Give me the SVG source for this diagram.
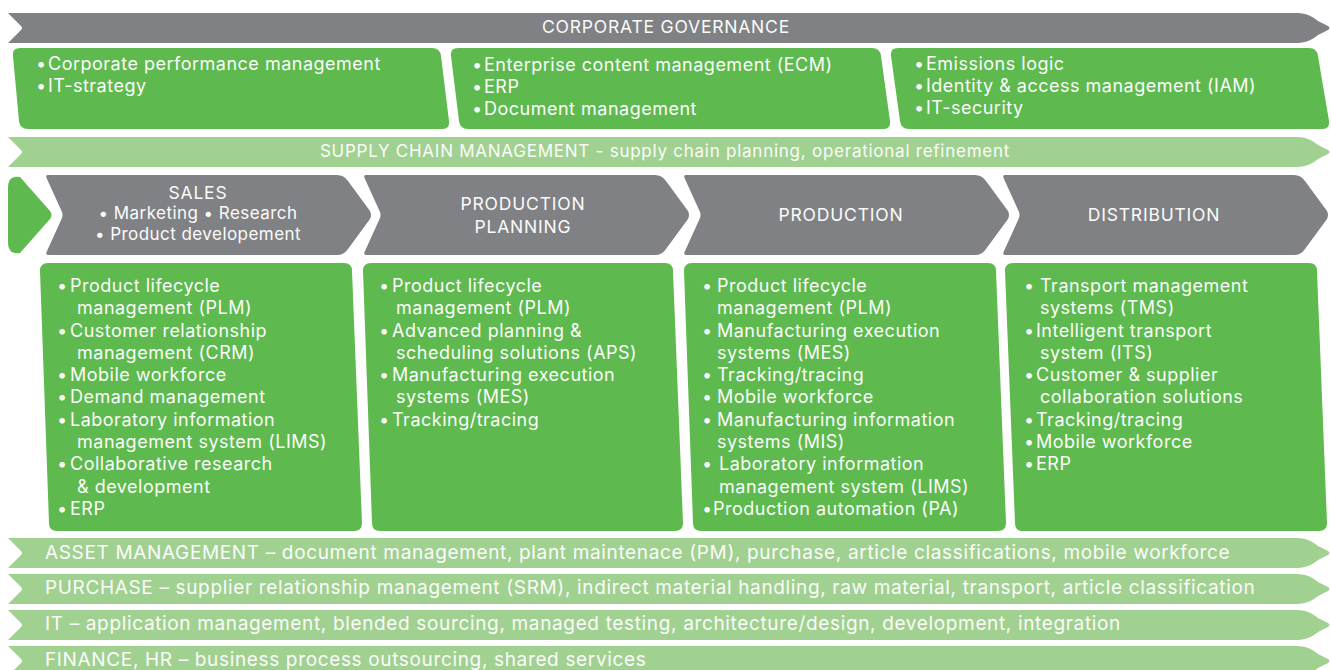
<svg xmlns="http://www.w3.org/2000/svg" width="1331" height="670" viewBox="0 0 1331 670">
<style>
.gray{fill:#808184}
.green{fill:#5eba4e}
.light{fill:#a1d190}
text{font-family:Inter,"Liberation Sans",sans-serif;fill:#fbfbfb}
.h{font-size:17.5px;letter-spacing:0.8px}
.s{font-size:17px;letter-spacing:0.45px}
.scm{font-size:17px;letter-spacing:0.75px}
.t{font-size:18px;letter-spacing:0.5px}
.b{font-size:19px;letter-spacing:0.65px}
.c{text-anchor:middle}
</style>
<defs>
<path id="chev" d="M 3 0 L 292 0 Q 299 0 303 6 L 325 36 Q 327 40 325 44 L 303 74 Q 299 80 292 80 L 3 80 Q 0 80 2 76 L 17 43 Q 18 40 17 37 L 2 4 Q 0 0 3 0 Z"/>
<path id="bar" d="M 8 0 L 1297 0 C 1307 0 1313 4 1318 8 L 1328 13 Q 1331 15 1328 17 L 1318 22 C 1313 26 1307 30 1297 30 L 8 30 L 21 17 Q 23 15 21 13 Z"/>
</defs>

<g id="corporate-governance">
<use href="#bar" y="13" class="gray"/>
<text class="h c" x="666" y="33">CORPORATE GOVERNANCE</text>
</g>

<g id="box-corporate">
<path class="green" d="M 20 48 L 432 48 Q 440 48 441 56 L 449 121 Q 450 129 442 129 L 28 129 Q 20 129 19 121 L 13 56 Q 12 48 20 48 Z"/>
<text class="t" x="36" y="70">•</text><text class="t" x="48" y="70">Corporate performance management</text>
<text class="t" x="36" y="92">•</text><text class="t" x="48" y="92">IT-strategy</text>
</g>

<g id="box-content">
<path class="green" d="M 458 48 L 872 48 Q 880 48 881 56 L 890 121 Q 891 129 883 129 L 468 129 Q 460 129 459 121 L 451 56 Q 450 48 458 48 Z"/>
<text class="t" x="472" y="71">•</text><text class="t" x="484" y="71">Enterprise content management (ECM)</text>
<text class="t" x="472" y="93">•</text><text class="t" x="484" y="93">ERP</text>
<text class="t" x="472" y="115">•</text><text class="t" x="484" y="115">Document management</text>
</g>

<g id="box-security">
<path class="green" d="M 898 48 L 1309 48 Q 1317 48 1318 56 L 1329 121 Q 1330 129 1322 129 L 909 129 Q 901 129 900 121 L 891 56 Q 890 48 898 48 Z"/>
<text class="t" x="914" y="70">•</text><text class="t" x="926" y="70">Emissions logic</text>
<text class="t" x="914" y="92">•</text><text class="t" x="926" y="92">Identity &amp; access management (IAM)</text>
<text class="t" x="914" y="114">•</text><text class="t" x="926" y="114">IT-security</text>
</g>

<g id="supply-chain">
<use href="#bar" y="137" class="light"/>
<text class="scm c" x="665" y="157">SUPPLY CHAIN MANAGEMENT - supply chain planning, operational refinement</text>
</g>

<g id="start">
<path class="green" d="M 8 188 Q 8 175 20 177 L 50 211 Q 53 215 50 219 L 20 253 Q 8 255 8 242 Z"/>
</g>

<g id="sales">
<use href="#chev" x="45" y="175" class="gray"/>
<text class="h c" x="198" y="199">SALES</text>
<text class="s c" x="198" y="219">• Marketing • Research</text>
<text class="s c" x="198" y="240">• Product developement</text>
</g>

<g id="production-planning">
<use href="#chev" x="363" y="175" class="gray"/>
<text class="h c" x="523" y="210">PRODUCTION</text>
<text class="h c" x="523" y="233">PLANNING</text>
</g>

<g id="production">
<use href="#chev" x="683" y="175" class="gray"/>
<text class="h c" x="841" y="221">PRODUCTION</text>
</g>

<g id="distribution">
<use href="#chev" x="1002" y="175" class="gray"/>
<text class="h c" x="1154" y="221">DISTRIBUTION</text>
</g>

<g id="sales-systems">
<path class="green" d="M 48 263 L 344 263 Q 352 263 352 271 L 362 523 Q 362 531 354 531 L 57 531 Q 49 531 49 523 L 40 271 Q 40 263 48 263 Z"/>
<text class="t" x="57" y="292">•</text><text class="t" x="70" y="292">Product lifecycle</text>
<text class="t" x="77" y="314">management (PLM)</text>
<text class="t" x="57" y="337">•</text><text class="t" x="70" y="337">Customer relationship</text>
<text class="t" x="77" y="359">management (CRM)</text>
<text class="t" x="57" y="381">•</text><text class="t" x="70" y="381">Mobile workforce</text>
<text class="t" x="57" y="403">•</text><text class="t" x="70" y="403">Demand management</text>
<text class="t" x="57" y="426">•</text><text class="t" x="70" y="426">Laboratory information</text>
<text class="t" x="77" y="448">management system (LIMS)</text>
<text class="t" x="57" y="470">•</text><text class="t" x="70" y="470">Collaborative research</text>
<text class="t" x="77" y="493">&amp; development</text>
<text class="t" x="57" y="515">•</text><text class="t" x="70" y="515">ERP</text>
</g>

<g id="planning-systems">
<path class="green" d="M 371 263 L 665 263 Q 673 263 673 271 L 683 523 Q 683 531 675 531 L 380 531 Q 372 531 372 523 L 363 271 Q 363 263 371 263 Z"/>
<text class="t" x="379" y="292">•</text><text class="t" x="392" y="292">Product lifecycle</text>
<text class="t" x="396" y="314">management (PLM)</text>
<text class="t" x="379" y="337">•</text><text class="t" x="392" y="337">Advanced planning &amp;</text>
<text class="t" x="396" y="359">scheduling solutions (APS)</text>
<text class="t" x="379" y="381">•</text><text class="t" x="392" y="381">Manufacturing execution</text>
<text class="t" x="396" y="403">systems (MES)</text>
<text class="t" x="379" y="426">•</text><text class="t" x="392" y="426">Tracking/tracing</text>
</g>

<g id="production-systems">
<path class="green" d="M 692 263 L 988 263 Q 996 263 996 271 L 1006 523 Q 1006 531 998 531 L 701 531 Q 693 531 693 523 L 684 271 Q 684 263 692 263 Z"/>
<text class="t" x="702" y="292">•</text><text class="t" x="717" y="292">Product lifecycle</text>
<text class="t" x="717" y="314">management (PLM)</text>
<text class="t" x="702" y="337">•</text><text class="t" x="717" y="337">Manufacturing execution</text>
<text class="t" x="717" y="359">systems (MES)</text>
<text class="t" x="702" y="381">•</text><text class="t" x="717" y="381">Tracking/tracing</text>
<text class="t" x="702" y="403">•</text><text class="t" x="717" y="403">Mobile workforce</text>
<text class="t" x="702" y="426">•</text><text class="t" x="717" y="426">Manufacturing information</text>
<text class="t" x="717" y="448">systems (MIS)</text>
<text class="t" x="702" y="470">•</text><text class="t" x="719" y="470">Laboratory information</text>
<text class="t" x="719" y="493">management system (LIMS)</text>
<text class="t" x="702" y="515">•</text><text class="t" x="713" y="515">Production automation (PA)</text>
</g>

<g id="distribution-systems">
<path class="green" d="M 1013 263 L 1309 263 Q 1317 263 1317 271 L 1327 523 Q 1327 531 1319 531 L 1023 531 Q 1015 531 1015 523 L 1005 271 Q 1005 263 1013 263 Z"/>
<text class="t" x="1024" y="292">•</text><text class="t" x="1040" y="292">Transport management</text>
<text class="t" x="1040" y="314">systems (TMS)</text>
<text class="t" x="1024" y="337">•</text><text class="t" x="1036" y="337">Intelligent transport</text>
<text class="t" x="1040" y="359">system (ITS)</text>
<text class="t" x="1024" y="381">•</text><text class="t" x="1036" y="381">Customer &amp; supplier</text>
<text class="t" x="1040" y="403">collaboration solutions</text>
<text class="t" x="1024" y="426">•</text><text class="t" x="1036" y="426">Tracking/tracing</text>
<text class="t" x="1024" y="448">•</text><text class="t" x="1036" y="448">Mobile workforce</text>
<text class="t" x="1024" y="470">•</text><text class="t" x="1036" y="470">ERP</text>
</g>

<g id="asset-management">
<use href="#bar" y="538" class="light"/>
<text class="b" x="45" y="559">ASSET MANAGEMENT – document management, plant maintenace (PM), purchase, article classifications, mobile workforce</text>
</g>
<g id="purchase">
<use href="#bar" y="574" class="light"/>
<text class="b" x="45" y="594">PURCHASE – supplier relationship management (SRM), indirect material handling, raw material, transport, article classification</text>
</g>
<g id="it">
<use href="#bar" y="610" class="light"/>
<text class="b" x="45" y="630">IT – application management, blended sourcing, managed testing, architecture/design, development, integration</text>
</g>
<g id="finance-hr">
<use href="#bar" y="646" class="light"/>
<text class="b" x="45" y="666">FINANCE, HR – business process outsourcing, shared services</text>
</g>

<g id="connectors"></g>
</svg>
